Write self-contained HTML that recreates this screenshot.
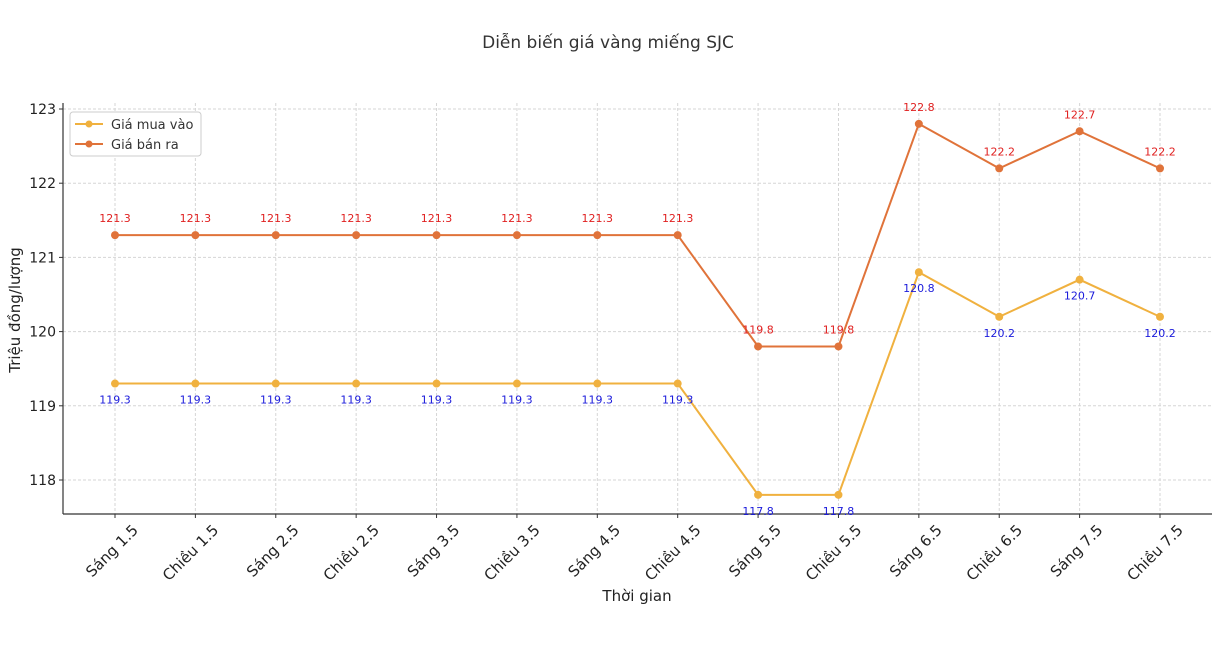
<!DOCTYPE html>
<html><head><meta charset="utf-8"><style>
body{margin:0;background:#fff;font-family:"DejaVu Sans","Liberation Sans",sans-serif;}
svg text{font-family:"DejaVu Sans","Liberation Sans",sans-serif;}
</style></head><body>
<svg id="chart" width="1214" height="644" xmlns="http://www.w3.org/2000/svg">
<text x="608" y="48" text-anchor="middle" font-size="17" fill="#333">Diễn biến giá vàng miếng SJC</text>
<g id="grid"></g><g id="axes"></g><g id="series"></g>
<text x="637" y="601" text-anchor="middle" font-size="15" fill="#222">Thời gian</text>
<text transform="translate(20,310) rotate(-90)" text-anchor="middle" font-size="15" fill="#222">Triệu đồng/lượng</text>
<g>
<rect x="70" y="112" width="131" height="44" rx="3" fill="#fff" stroke="#ccc"/>
<line x1="75" y1="124" x2="103" y2="124" stroke="#f0b13f" stroke-width="2"/><circle cx="89" cy="124" r="3.5" fill="#f0b13f"/>
<text x="111" y="129" font-size="13" fill="#333">Giá mua vào</text>
<line x1="75" y1="144" x2="103" y2="144" stroke="#e0733a" stroke-width="2"/><circle cx="89" cy="144" r="3.5" fill="#e0733a"/>
<text x="111" y="149" font-size="13" fill="#333">Giá bán ra</text>
</g>
</svg>
<script>
const categories=["Sáng 1.5","Chiều 1.5","Sáng 2.5","Chiều 2.5","Sáng 3.5","Chiều 3.5","Sáng 4.5","Chiều 4.5","Sáng 5.5","Chiều 5.5","Sáng 6.5","Chiều 6.5","Sáng 7.5","Chiều 7.5"];
const buyValues=[119.3,119.3,119.3,119.3,119.3,119.3,119.3,119.3,117.8,117.8,120.8,120.2,120.7,120.2];
const sellValues=[121.3,121.3,121.3,121.3,121.3,121.3,121.3,121.3,119.8,119.8,122.8,122.2,122.7,122.2];
const yTicks=[118,119,120,121,122,123];
const NS="http://www.w3.org/2000/svg";
const L=63,R=1212,T=103,B=514;
const x=i=>115+i*(1160-115)/(categories.length-1);
const y=v=>109+(123-v)*74.2;
function mk(p,t,a){const e=document.createElementNS(NS,t);for(const k in a)e.setAttribute(k,a[k]);p.appendChild(e);return e;}
const g=document.getElementById('grid'),ax=document.getElementById('axes'),s=document.getElementById('series');
yTicks.forEach(v=>{
 const l=mk(g,'line',{x1:L,x2:R,y1:y(v),y2:y(v),stroke:'#d5d5d5','stroke-dasharray':'3,2'});
 
 
 mk(ax,'line',{x1:L-4,x2:L,y1:y(v),y2:y(v),stroke:'#333'});
 const t=mk(ax,'text',{x:L-7,y:y(v)+5,'text-anchor':'end','font-size':14,fill:'#222'});t.textContent=v;
 
 
});
categories.forEach((c,i)=>{
 const l=mk(g,'line',{x1:x(i),x2:x(i),y1:T,y2:B,stroke:'#d5d5d5','stroke-dasharray':'3,2'});
 
 
 mk(ax,'line',{x1:x(i),x2:x(i),y1:B,y2:B+4,stroke:'#333'});
 const t=mk(ax,'text',{x:0,y:0,'text-anchor':'end','font-size':15,fill:'#222',transform:`translate(${x(i)+24},${B+17}) rotate(-45)`});t.textContent=c;
 
 
});
mk(ax,'line',{x1:L,x2:L,y1:T,y2:B,stroke:'#333','stroke-width':1.2});
mk(ax,'line',{x1:L,x2:R,y1:B,y2:B,stroke:'#333','stroke-width':1.2});
function series(vals,color,lblColor,dy,name){
 const p=mk(s,'polyline',{points:vals.map((v,i)=>x(i)+','+y(v)).join(' '),fill:'none',stroke:color,'stroke-width':2});
 
 
 vals.forEach((v,i)=>{
  const c=mk(s,'circle',{cx:x(i),cy:y(v),r:4,fill:color});
  
  
  const t=mk(s,'text',{x:x(i),y:y(v)+dy,'text-anchor':'middle','font-size':11,fill:lblColor});t.textContent=v.toFixed(1);
  
  
 });
}
series(buyValues,'#f0b13f','#1a1adb',20,'buy');
series(sellValues,'#e0733a','#e02020',-13,'sell');
</script>
</body></html>
